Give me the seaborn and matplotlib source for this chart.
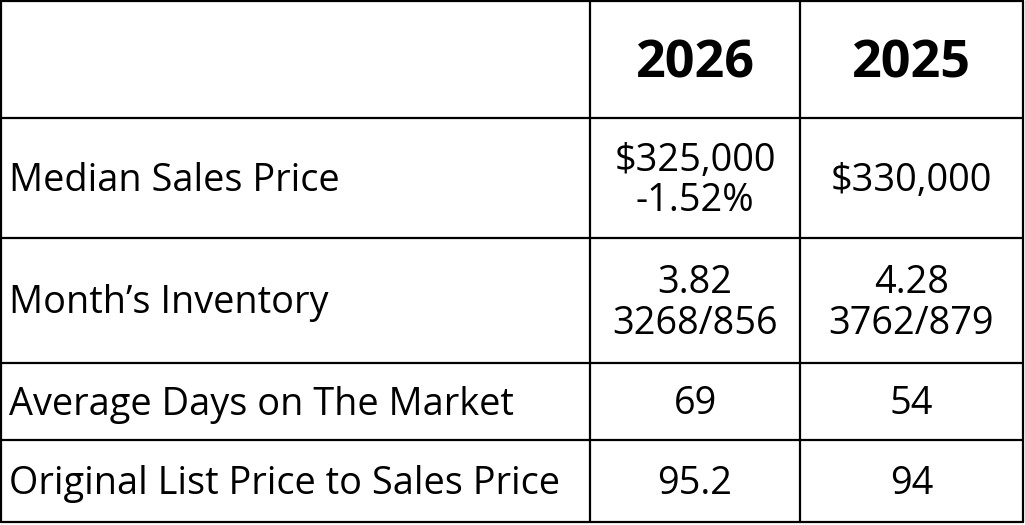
import matplotlib
matplotlib.use("Agg")
import matplotlib.pyplot as plt
import seaborn as sns

sns.set_theme(style="white")
plt.rcParams['font.family'] = ['Open Sans', 'DejaVu Sans']

years = ["2026", "2025"]
metrics = ["Median Sales Price", "Month\u2019s Inventory", "Average Days on The Market",
           "Original List Price to Sales Price"]
values_2026 = ["$325,000\n-1.52%", "3.82\n3268/856", "69", "95.2"]
values_2025 = ["$330,000", "4.28\n3762/879", "54", "94"]

col_edges = [1, 590, 800, 1023]
row_edges = [1, 118, 238, 363, 440, 522]

fig = plt.figure(figsize=(10.25, 5.25), dpi=100)
ax = fig.add_axes([0, 0, 1, 1])
ax.set_xlim(0, 1025)
ax.set_ylim(525, 0)
ax.axis("off")

for y in row_edges:
    ax.plot([col_edges[0], col_edges[-1]], [y, y], color="black", lw=1.6)
for x in col_edges:
    ax.plot([x, x], [row_edges[0], row_edges[-1]], color="black", lw=1.6)

def cy(i):
    return (row_edges[i] + row_edges[i + 1]) / 2

for j, yr in enumerate(years):
    ax.text((col_edges[j + 1] + col_edges[j + 2]) / 2, cy(0) + 4, yr, ha="center", va="center",
            fontsize=37.5, fontweight="bold", color="black")

for i, m in enumerate(metrics):
    r = i + 1
    ax.text(9, cy(r) + 3, m, ha="left", va="center", fontsize=27.3, color="black")
    for j, vals in enumerate([values_2026, values_2025]):
        ax.text((col_edges[j + 1] + col_edges[j + 2]) / 2, cy(r) + 3, vals[i], ha="center",
                va="center", fontsize=27.3, color="black", linespacing=1.1)

fig.savefig("out.png", dpi=100, facecolor="white")
